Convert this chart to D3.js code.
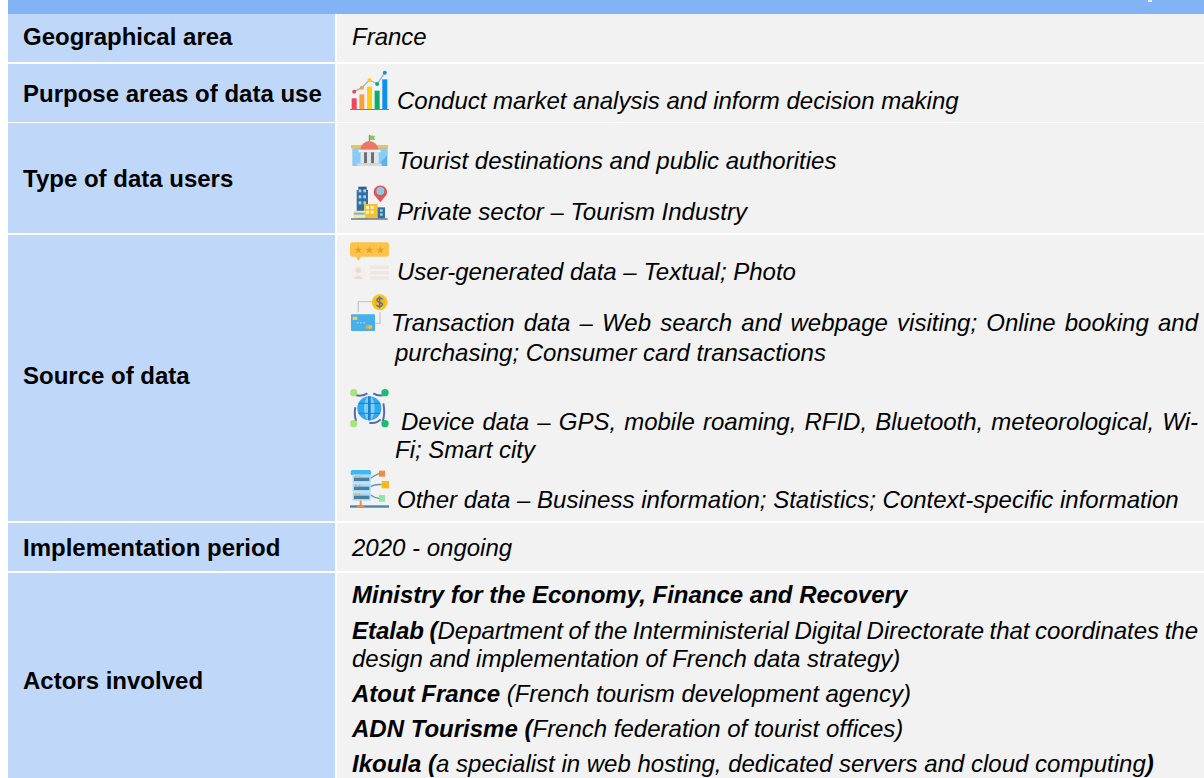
<!DOCTYPE html>
<meta charset="utf-8">
<style>
html, body { margin: 0; padding: 0; background: #fff; overflow: hidden; }
text { font-family: "Liberation Sans", Arial, sans-serif; fill: #000; }
.label { font-size: 24px; font-weight: bold; }
.value { font-size: 24px; font-style: italic; }
.strong { font-weight: bold; }
</style>
<body>
<script src="https://d3js.org/d3.v7.js"></script>
<script>

const width = 1204;
const height = 778;

// table content
const rowLabels = [
  "Geographical area",
  "Purpose areas of data use",
  "Type of data users",
  "Source of data",
  "Implementation period",
  "Actors involved"
];

// each line is a list of [text, bold] runs
const valueLines = [
  [["France", 0]],
  [["Conduct market analysis and inform decision making", 0]],
  [["Tourist destinations and public authorities", 0]],
  [["Private sector – Tourism Industry", 0]],
  [["User-generated data – Textual; Photo", 0]],
  [["Transaction data – Web search and webpage visiting; Online booking and", 0]],
  [["purchasing; Consumer card transactions", 0]],
  [["Device data – GPS, mobile roaming, RFID, Bluetooth, meteorological, Wi-", 0]],
  [["Fi; Smart city", 0]],
  [["Other data – Business information; Statistics; Context-specific information", 0]],
  [["2020 - ongoing", 0]],
  [["Ministry for the Economy, Finance and Recovery", 1]],
  [["Etalab (", 1], ["Department of the Interministerial Digital Directorate that coordinates the", 0]],
  [["design and implementation of French data strategy)", 0]],
  [["Atout France ", 1], ["(French tourism development agency)", 0]],
  [["ADN Tourisme (", 1], ["French federation of tourist offices)", 0]],
  [["Ikoula (", 1], ["a specialist in web hosting, dedicated servers and cloud computing", 0], [")", 1]]
];

const chartIconBars = [33, 45, 68, 56, 90];
const chartIconLine = [53, 65, 88, 76, 110];

// layout
const rowTops = [14, 64, 123, 235, 523, 573];
const rowBottoms = [62, 122, 233, 521, 571, 778];
const labelBaselines = [45, 102, 187, 384, 556, 689];
const lineX = [352, 397, 397, 397, 397, 391, 395, 401, 395, 397, 352, 352, 352, 352, 352, 352, 352];
const lineBaselines = [45, 109, 169, 220, 280, 331, 361, 430, 458, 508, 556, 603, 639, 667, 702, 737, 772];
const lineJustify = [0, 0, 0, 0, 0, 1198, 0, 1198, 0, 0, 0, 0, 1198, 0, 0, 0, 0];

const svg = d3.select("body").append("svg")
    .attr("width", width)
    .attr("height", height)
    .style("display", "block");

// the icons in the reference are soft from being scaled down
svg.append("defs").append("filter")
    .attr("id", "soft")
  .append("feGaussianBlur")
    .attr("stdDeviation", 1.1);

svg.append("rect")
    .attr("x", 8).attr("y", 0)
    .attr("width", width - 8).attr("height", 14)
    .attr("fill", "#82b4f5");
svg.append("rect")
    .attr("x", 1148).attr("y", 0)
    .attr("width", 4).attr("height", 2)
    .attr("fill", "#e8f0fc");

const rows = svg.selectAll("g.row")
  .data(rowLabels)
  .enter().append("g")
    .attr("class", "row");

rows.append("rect")
    .attr("x", 8)
    .attr("y", (d, i) => rowTops[i])
    .attr("width", 327)
    .attr("height", (d, i) => rowBottoms[i] - rowTops[i])
    .attr("fill", "#bfd8fa");

rows.append("rect")
    .attr("x", 337)
    .attr("y", (d, i) => rowTops[i])
    .attr("width", width - 337)
    .attr("height", (d, i) => rowBottoms[i] - rowTops[i])
    .attr("fill", "#f2f2f2");

rows.append("text")
    .attr("class", "label")
    .attr("x", 23)
    .attr("y", (d, i) => labelBaselines[i])
    .text(d => d);

const lines = svg.selectAll("text.value")
  .data(valueLines)
  .enter().append("text")
    .attr("class", "value")
    .attr("x", (d, i) => lineX[i])
    .attr("y", (d, i) => lineBaselines[i]);

lines.selectAll("tspan")
  .data(d => d)
  .enter().append("tspan")
    .attr("class", d => d[1] ? "strong" : null)
    .text(d => d[0]);

// stretch justified lines by their word gaps
lines.each(function(d, i) {
  if (!lineJustify[i]) return;
  const gaps = d.map(r => r[0]).join("").split(" ").length - 1;
  const extra = lineJustify[i] - lineX[i] - this.getComputedTextLength();
  d3.select(this).style("word-spacing", (extra / gaps) + "px");
});

// icons, drawn in a 3x grid and scaled down
function icon(x, y) {
  return svg.append("g")
      .attr("transform", `translate(${x},${y}) scale(${1 / 3})`)
      .attr("filter", "url(#soft)");
}

function shape(g, x, y, w, h, fill, r) {
  g.append("rect").attr("x", x).attr("y", y).attr("width", w).attr("height", h)
      .attr("rx", r || 0).attr("fill", fill);
}

function dot(g, x, y, r, fill) {
  g.append("circle").attr("cx", x).attr("cy", y).attr("r", r).attr("fill", fill);
}

function trace(g, d, stroke, w) {
  g.append("path").attr("d", d).attr("fill", "none").attr("stroke", stroke).attr("stroke-width", w);
}

// bars and trend line
const chartIcon = icon(340, 60);
const barColors = ["#f0455f", "#f9a03c", "#fdd20e", "#10ad6c", "#0f8ff0"];
const iconX = d3.scaleBand().domain(d3.range(5)).range([34, 143]).paddingInner(0.35).paddingOuter(0.05);
const iconY = d3.scaleLinear().domain([0, 110]).range([148, 38]);
chartIcon.append("path")
    .attr("d", d3.line().x((d, i) => iconX(i) + iconX.bandwidth() / 2).y(d => iconY(d))(chartIconLine))
    .attr("fill", "none").attr("stroke", "#8fb8e8").attr("stroke-width", 4);
chartIcon.selectAll("rect.bar")
  .data(chartIconBars)
  .enter().append("rect")
    .attr("class", "bar")
    .attr("x", (d, i) => iconX(i))
    .attr("y", d => iconY(d))
    .attr("width", iconX.bandwidth())
    .attr("height", d => iconY(0) - iconY(d))
    .attr("fill", (d, i) => barColors[i]);
chartIcon.selectAll("circle")
  .data(chartIconLine)
  .enter().append("circle")
    .attr("cx", (d, i) => iconX(i) + iconX.bandwidth() / 2)
    .attr("cy", d => iconY(d))
    .attr("r", 6)
    .attr("fill", (d, i) => barColors[i]);
shape(chartIcon, 30, 147, 117, 3, "#3a8fe0");

// public building
const gov = icon(340, 60);
shape(gov, 38, 262, 104, 56, "#5db2ea");
gov.append("path").attr("d", "M38,265L142,265L142,285L112,318L38,318Z").attr("fill", "#8ccbf3");
shape(gov, 33, 255, 111, 10, "#f6c04f");
trace(gov, "M88,225L88,246", "#777", 3);
gov.append("path").attr("d", "M90,226L106,228L102,233L106,240L90,240Z").attr("fill", "#8cc65a");
gov.append("path").attr("d", "M61,270A27,27 0 0 1 115,270Z").attr("fill", "#ee7763");
shape(gov, 56, 269, 66, 8, "#f2efeb");
shape(gov, 62, 277, 54, 33, "#dfe6ea");
shape(gov, 72, 277, 9, 33, "#6f6f73");
shape(gov, 93, 277, 9, 33, "#6f6f73");
shape(gov, 52, 310, 73, 8, "#d9d9d9");

// city and location pin
const city = icon(340, 60);
shape(city, 55, 380, 25, 10, "#2f5e8c");
shape(city, 50, 390, 34, 85, "#33709f");
[50, 68, 86].forEach(wy => {
  [56, 70].forEach(wx => shape(city, wx, 338 + wy, 8, 9, "#a9d3ea"));
});
shape(city, 72, 432, 41, 43, "#f2c230");
[438, 452].forEach(wy => {
  [78, 92].forEach(wx => shape(city, wx, wy, 9, 9, "#fff2b8"));
});
shape(city, 113, 442, 22, 33, "#33709f");
[448, 460].forEach(wy => shape(city, 120, wy, 8, 7, "#a9d3ea"));
shape(city, 40, 452, 36, 23, "#f6e6a4", 3);
shape(city, 42, 458, 32, 6, "#7bb4cc");
shape(city, 33, 475, 110, 4, "#5a6a7d");
city.append("path").attr("d", "M103,405A20,20 0 1 1 139,405L121,427Z").attr("fill", "#e25555");
dot(city, 121, 393, 12, "#8ccbe8");

// rating card
const rating = icon(340, 235);
shape(rating, 30, 22, 117, 43, "#fcc24c", 7);
rating.append("path").attr("d", "M47,64L64,64L55,78Z").attr("fill", "#fcc24c");
[55, 88, 121].forEach(sx => {
  const star = d3.range(10).map(k => {
    const a = k * Math.PI / 5 - Math.PI / 2, r = k % 2 ? 5 : 12;
    return [sx + r * Math.cos(a), 45 + r * Math.sin(a)];
  });
  rating.append("path").attr("d", d3.line()(star) + "Z").attr("fill", "#e8a020");
});
dot(rating, 55, 115, 23, "#f6eee9");
dot(rating, 55, 106, 8, "#e9dcd4");
rating.append("path").attr("d", "M41,132Q55,112 69,132Z").attr("fill", "#e9dcd4");
[92, 108, 124].forEach(ly => shape(rating, 90, ly, 57, 10, "#eee6df"));

// card and coin
const pay = icon(340, 235);
trace(pay, "M95,200L55,200L55,232", "#c9c9c9", 4);
trace(pay, "M105,265L120,265L120,232", "#c9c9c9", 4);
dot(pay, 119, 202, 24, "#f7c81e");
dot(pay, 119, 202, 17, "#f5b324");
trace(pay, "M128,193C122,186 110,190 111,197C112,204 128,200 127,209C126,216 113,216 109,210M119,184L119,220", "#4f6fa0", 4);
shape(pay, 33, 238, 72, 50, "#45b0ea", 2);
shape(pay, 38, 245, 14, 10, "#f3d04a");
[50, 60, 70].forEach(tx => shape(pay, tx, 262, 5, 3, "#bfe5fb"));
dot(pay, 82, 276, 6, "#f0a040");
dot(pay, 91, 276, 6, "#f5c04a");

// globe with network
const globe = icon(340, 380);
trace(globe, "M48,46Q70,50 82,40M128,46Q112,48 100,40M48,124Q42,100 46,82M128,124Q136,100 130,70M88,128Q108,132 122,118", "#5a6aa8", 6);
dot(globe, 88, 85, 36, "#2ea8f0");
globe.append("ellipse").attr("cx", 88).attr("cy", 85).attr("rx", 16).attr("ry", 36).attr("fill", "#7fd0f8");
shape(globe, 84, 49, 8, 72, "#1d7fd0");
trace(globe, "M55,70L121,70M55,100L121,100", "#1d7fd0", 3);
dot(globe, 41, 38, 11, "#a8e67c");
dot(globe, 135, 38, 11, "#18c070");
dot(globe, 41, 131, 11, "#a8e67c");
dot(globe, 135, 131, 11, "#18c070");

// servers
const server = icon(340, 380);
trace(server, "M92,295Q105,285 117,281M92,320Q105,312 125,314M92,345Q105,355 117,355", "#5b93b5", 4);
shape(server, 32, 270, 61, 16, "#3cb8f0", 5);
[283, 310, 337].forEach(sy => {
  shape(server, 38, sy, 54, 25, "#a8daf8");
  shape(server, 42, sy + 10, 46, 10, "#4a7fa0");
  shape(server, 45, sy + 4, 5, 5, "#f0a040");
  shape(server, 56, sy + 4, 5, 5, "#f0a040");
});
shape(server, 59, 362, 6, 14, "#f58a3c");
shape(server, 30, 376, 117, 7, "#4a85a8");
shape(server, 52, 376, 20, 7, "#f58a3c");
shape(server, 117, 272, 18, 18, "#f58a3c");
shape(server, 125, 303, 22, 22, "#fcb814");
shape(server, 117, 345, 18, 20, "#90e8a0");

</script>
